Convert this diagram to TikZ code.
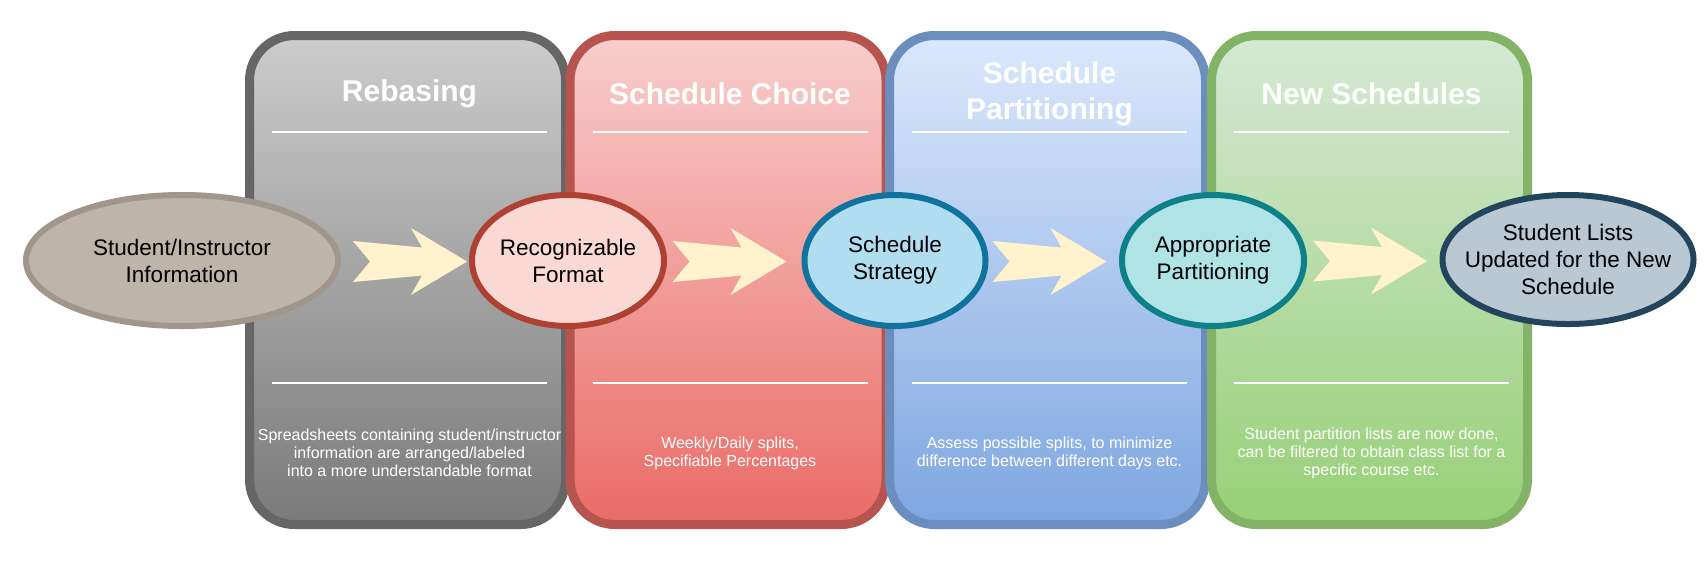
\documentclass[tikz,border=0pt]{standalone}
\usepackage{fontspec}
\setmainfont{Liberation Sans}
\usetikzlibrary{calc,shapes.geometric}
\definecolor{grayTop}{HTML}{CCCCCC}
\definecolor{grayBot}{HTML}{7A7A7A}
\definecolor{grayLine}{HTML}{666666}
\definecolor{redTop}{HTML}{F8CECC}
\definecolor{redBot}{HTML}{EA6B66}
\definecolor{redLine}{HTML}{B85450}
\definecolor{blueTop}{HTML}{DAE8FC}
\definecolor{blueBot}{HTML}{7EA6E0}
\definecolor{blueLine}{HTML}{6C8EBF}
\definecolor{greenTop}{HTML}{D5E8D4}
\definecolor{greenBot}{HTML}{97D077}
\definecolor{greenLine}{HTML}{82B366}
\definecolor{arrowFill}{HTML}{FFF2CC}
\definecolor{eOneFill}{HTML}{BDB4AA}
\definecolor{eOneLine}{HTML}{A0968C}
\definecolor{eTwoFill}{HTML}{FAD9D5}
\definecolor{eTwoLine}{HTML}{AE4132}
\definecolor{eThreeFill}{HTML}{B1DDF0}
\definecolor{eThreeLine}{HTML}{10739E}
\definecolor{eFourFill}{HTML}{B0E3E6}
\definecolor{eFourLine}{HTML}{0E8088}
\definecolor{eFiveFill}{HTML}{BAC8D3}
\definecolor{eFiveLine}{HTML}{23445D}
\begin{document}
\begin{tikzpicture}[x=0.5pt,y=-0.5pt,
  stage/.style={rectangle, rounded corners=22.5pt, minimum width=158pt,
    minimum height=244.5pt, line width=4.5pt, inner sep=0pt},
  stagetitle/.style={text=white, font=\fontsize{15}{18}\selectfont\bfseries, align=center, inner sep=0pt},
  stagedesc/.style={text=white, font=\fontsize{8}{9}\selectfont, align=center, inner sep=0pt},
  sepline/.style={draw=white, line width=1pt},
  stepellipse/.style={ellipse, line width=3pt, inner sep=0pt, minimum height=65.5pt},
  etext/.style={font=\fontsize{11.25}{13.5}\selectfont, align=center, inner sep=0pt, text=black},
  flowarrow/.pic={\fill[arrowFill] (-57,-20.5) -- (12,-14) -- (1,-33.5) -- (57,0)
      -- (1,33.5) -- (12,14) -- (-57,20.5) -- (-40,0) -- cycle;}
]
\useasboundingbox[fill=white] (0,0) rectangle (1706,575);

% stage boxes
\node[stage, draw=grayLine, top color=grayTop, bottom color=grayBot] (gray) at (407.5,280) {};
\node[stage, draw=redLine, top color=redTop, bottom color=redBot] (red) at (728,280) {};
\node[stage, draw=blueLine, top color=blueTop, bottom color=blueBot] (blue) at (1047.5,280) {};
\node[stage, draw=greenLine, top color=greenTop, bottom color=greenBot] (green) at (1369.5,280) {};

% titles, separators, descriptions
\foreach \b/\t/\d in {
  gray/{Rebasing}/{Spreadsheets containing student/instructor\\information are arranged/labeled\\into a more understandable format},
  red/{Schedule Choice}/{Weekly/Daily splits,\\Specifiable Percentages},
  blue/{Schedule\\Partitioning}/{Assess possible splits, to minimize\\difference between different days etc.},
  green/{New Schedules}/{Student partition lists are now done,\\can be filtered to obtain class list for a\\specific course etc.}}{
  \node[stagetitle] (\b-title) at ($(\b.center)+(2,-186)$) {\t};
  \draw[sepline] ($(\b.center)+(-135.5,-148)$) -- ($(\b.center)+(139.5,-148)$);
  \draw[sepline] ($(\b.center)+(-135.5,103)$) -- ($(\b.center)+(139.5,103)$);
  \node[stagedesc] (\b-desc) at ($(\b.center)+(2,173)$) {\d};
}

% ellipses
\node[stepellipse, draw=eOneLine, fill=eOneFill, minimum width=156pt] (e1) at (182,260.5) {};
\node[stepellipse, draw=eTwoLine, fill=eTwoFill, minimum width=96pt] (e2) at (568,260.5) {};
\node[stepellipse, draw=eThreeLine, fill=eThreeFill, minimum width=90.5pt] (e3) at (895,260.5) {};
\node[stepellipse, draw=eFourLine, fill=eFourFill, minimum width=91pt] (e4) at (1213,260.5) {};
\node[stepellipse, draw=eFiveLine, fill=eFiveFill, minimum width=125.5pt, minimum height=64.5pt] (e5) at (1568,259.5) {};

\node[etext] (t1) at (e1) {Student/Instructor\\Information};
\node[etext] (t2) at (e2) {Recognizable\\Format};
\node[etext] (t3) at (e3) {Schedule\\Strategy};
\node[etext] (t4) at (e4) {Appropriate\\Partitioning};
\node[etext] (t5) at (e5) {Student Lists\\Updated for the New\\Schedule};

% arrows between ellipses
\coordinate (a1) at ($(e1.east)!0.539!(e2.west)+(0,1)$);
\coordinate (a2) at ($(e2.east)!0.465!(e3.west)+(0,1)$);
\coordinate (a3) at ($(e3.east)!0.467!(e4.west)+(0,1)$);
\coordinate (a4) at ($(e4.east)!0.475!(e5.west)+(0,1)$);
\foreach \a in {a1,a2,a3,a4}{\pic at (\a) {flowarrow};}
\end{tikzpicture}
\end{document}
